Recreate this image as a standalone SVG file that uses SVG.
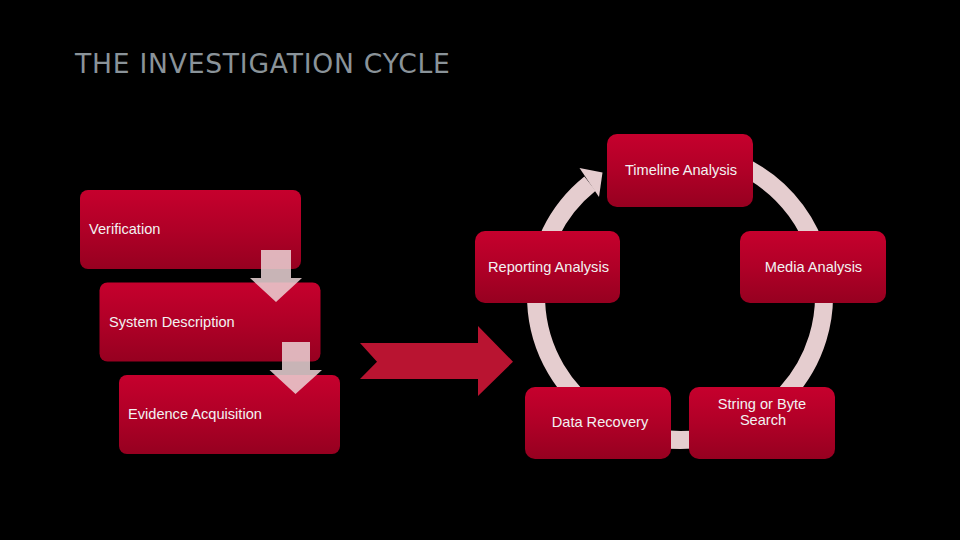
<svg xmlns="http://www.w3.org/2000/svg" width="960" height="540" viewBox="0 0 960 540">
  <defs>
    <linearGradient id="boxGrad" x1="0" y1="0" x2="0" y2="1">
      <stop offset="0" stop-color="#c6002d"/>
      <stop offset="0.5" stop-color="#b00027"/>
      <stop offset="1" stop-color="#960020"/>
    </linearGradient>
  </defs>
  <style>
    .box { fill: url(#boxGrad); }
    .lbl { font-family: "Liberation Sans", Arial, sans-serif; font-size: 14.6px; fill: #f2f2f2; }
    .mid { text-anchor: middle; }
    .down { fill: #ebd3d6; fill-opacity: 0.85; }
    .ring { fill: none; stroke: #e5cdcf; stroke-width: 18; }
    .title { font-family: "DejaVu Sans", sans-serif; font-size: 26.6px; letter-spacing: 0.75px; fill: #8a9399; }
  </style>
  <rect width="960" height="540" fill="#000000"/>
  <text class="title" x="75" y="73">THE INVESTIGATION CYCLE</text>

  <g id="connectors">
    <path id="ring" class="ring" d="M 680 152 A 144 144 0 1 1 590 183.6"/>
    <polygon id="ring-head" fill="#e5cdcf" points="579.5,168 602.5,172.5 599,197"/>
    <polygon id="big-arrow" fill="#b91431" points="360,343 478,343 478,326 513,361.7 478,396 478,379 360,379 377,361.7"/>
  </g>

  <g id="node-verification">
    <rect class="box" x="80" y="190" width="221" height="79" rx="8"/>
    <text class="lbl" x="89" y="234">Verification</text>
  </g>
  <g id="node-system">
    <rect class="box" x="99.5" y="282.5" width="221" height="79" rx="8"/>
    <text class="lbl" x="109" y="326.5">System Description</text>
  </g>
  <g id="node-evidence">
    <rect class="box" x="119" y="375" width="221" height="79" rx="8"/>
    <text class="lbl" x="128" y="419">Evidence Acquisition</text>
  </g>
  <g id="flow-arrows">
    <polygon class="down" points="261,250 291,250 291,278 302,278 276,302 250,278 261,278"/>
    <polygon class="down" points="282,342 310,342 310,370 322,370 295.5,394 269.5,370 282,370"/>
  </g>

  <g id="node-timeline">
    <rect class="box" x="607" y="134" width="146" height="73" rx="10"/>
    <text class="lbl mid" x="681" y="175">Timeline Analysis</text>
  </g>
  <g id="node-media">
    <rect class="box" x="740" y="231" width="146" height="72" rx="10"/>
    <text class="lbl mid" x="813.5" y="272">Media Analysis</text>
  </g>
  <g id="node-string">
    <rect class="box" x="689" y="387" width="146" height="72" rx="10"/>
    <text class="lbl mid" x="762" y="409">String or Byte</text>
    <text class="lbl mid" x="763" y="425">Search</text>
  </g>
  <g id="node-data">
    <rect class="box" x="525" y="387" width="146" height="72" rx="10"/>
    <text class="lbl mid" x="600" y="427">Data Recovery</text>
  </g>
  <g id="node-reporting">
    <rect class="box" x="475" y="231" width="145" height="72" rx="10"/>
    <text class="lbl mid" x="548.5" y="272">Reporting Analysis</text>
  </g>
</svg>
